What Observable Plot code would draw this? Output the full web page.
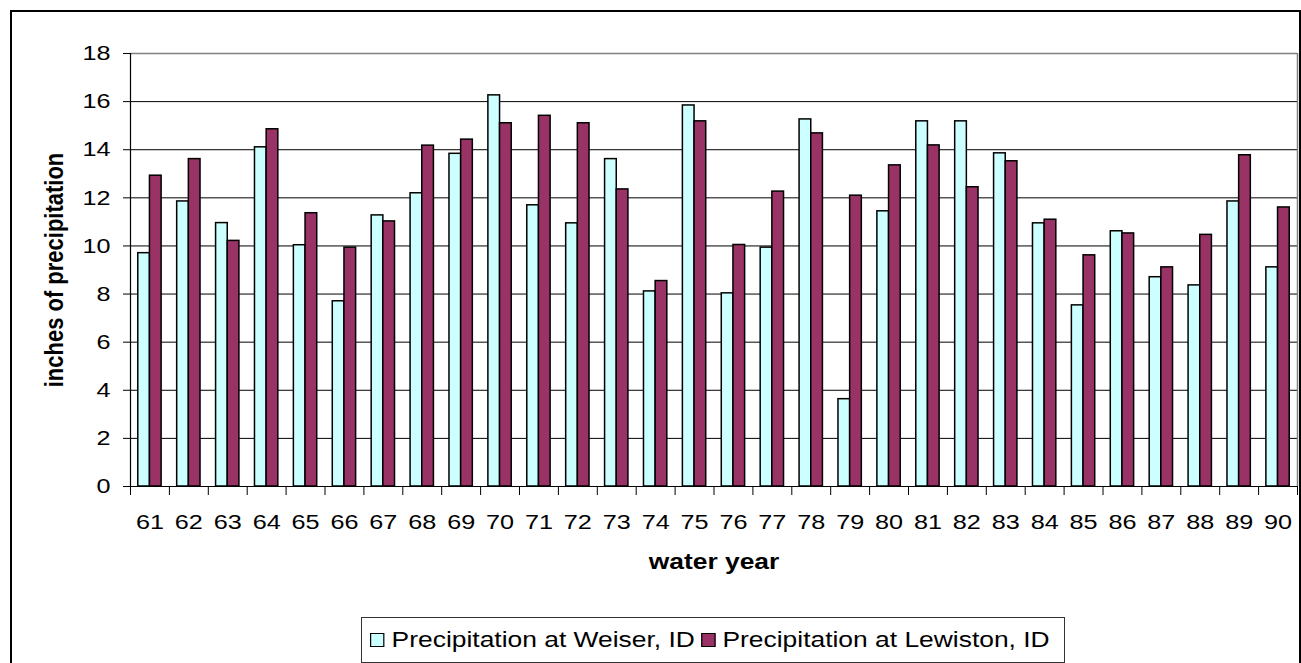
<!DOCTYPE html>
<html>
<head>
<meta charset="utf-8">
<script src="https://cdn.jsdelivr.net/npm/d3@7"></script>
<script src="https://cdn.jsdelivr.net/npm/@observablehq/plot@0.6"></script>
<style>
  body { margin: 0; background: #fff; font-family: "Liberation Sans", Arial, sans-serif; }
  #wrap { position: relative; width: 1301px; height: 663px; overflow: hidden; background: #fff; }
  #chart { position: absolute; left: 0; top: 0; }
  #frame { position: absolute; left: 10px; top: 10px; width: 1291px; height: 700px; border: 2px solid #000; box-sizing: border-box; pointer-events: none; }
  #legend { position: absolute; left: 361px; top: 617px; width: 704px; height: 46px; border: 1px solid #333; box-sizing: border-box; background: #fff; }
  #legend .inner { position: absolute; left: 8px; top: 0; height: 100%; display: flex; align-items: center; transform: scaleX(1.2); transform-origin: left center; white-space: nowrap; font-size: 22px; color: #000; }
  #legend .sw { display: inline-block; width: 10px; height: 12px; border: 1.5px solid #000; margin-right: 6px; }
  #legend .item { display: flex; align-items: center; margin-right: 5px; }
</style>
</head>
<body>
<div id="wrap">
  <div id="chart"></div>
  <div id="frame"></div>
  <div id="legend"><div class="inner"></div></div>
</div>
<script>
// ---- data ----
const years = [61,62,63,64,65,66,67,68,69,70,71,72,73,74,75,76,77,78,79,80,81,82,83,84,85,86,87,88,89,90];
const weiser = [9.7,11.85,10.95,14.1,10.03,7.7,11.27,12.19,13.83,16.26,11.69,10.94,13.61,8.11,15.84,8.03,9.93,15.26,3.63,11.44,15.18,15.18,13.85,10.94,7.53,10.61,8.70,8.36,11.85,9.11];
const lewiston = [12.92,13.61,10.21,14.85,11.36,9.93,11.02,14.17,14.42,15.10,15.41,15.10,12.35,8.54,15.18,10.04,12.26,14.68,12.09,13.35,14.18,12.44,13.52,11.09,9.61,10.52,9.11,10.46,13.77,11.60];
const seriesNames = ["Precipitation at Weiser, ID", "Precipitation at Lewiston, ID"];
const seriesColors = ["#CCFFFF", "#993366"];
const yTicks = [0,2,4,6,8,10,12,14,16,18];
const xLabel = "water year";
const yLabel = "inches of precipitation";

const data = years.flatMap((yr, i) => [
  {year: yr, series: seriesNames[0], value: weiser[i], side: 0},
  {year: yr, series: seriesNames[1], value: lewiston[i], side: 1}
]);
const xMin = years[0] - 0.5, xMax = years[years.length - 1] + 0.5;
const bounds = years.map(y => y - 0.5).concat([xMax]);
const yMax = yTicks[yTicks.length - 1];
const barW = 0.3;

const chart = Plot.plot({
  width: 1301,
  height: 600,
  marginLeft: 130,
  marginRight: 4,
  marginTop: 53,
  marginBottom: 114,
  style: {fontFamily: "'Liberation Sans', Arial, sans-serif", fontSize: "21px", color: "#000", background: "transparent"},
  x: {domain: [xMin, xMax]},
  y: {domain: [0, yMax]},
  color: {domain: seriesNames, range: seriesColors},
  marks: [
    Plot.ruleY(yTicks.filter(v => v > 0 && v < yMax), {stroke: "#000", strokeWidth: 1}),
    Plot.ruleY([yMax], {stroke: "#808080", strokeWidth: 1.5}),
    Plot.ruleX([xMax], {stroke: "#808080", strokeWidth: 1.5}),
    Plot.rectY(data, {
      x1: d => d.side === 0 ? d.year - barW : d.year,
      x2: d => d.side === 0 ? d.year : d.year + barW,
      y1: 0,
      y2: "value",
      fill: "series",
      stroke: "#000",
      strokeWidth: 1.5
    }),
    Plot.ruleX([xMin], {stroke: "#000", strokeWidth: 1.2}),
    Plot.ruleY([0], {stroke: "#000", strokeWidth: 1.2}),
    Plot.axisY({ticks: yTicks, tickSize: 7, tickPadding: 13, fontSize: 21, label: null, tickFormat: d => String(d)}),
    Plot.axisX({ticks: years, tickSize: 0, tickPadding: 28, fontSize: 21, label: null, tickFormat: d => String(d)}),
    Plot.axisX({ticks: bounds, tickSize: 9, tickFormat: () => "", label: null}),
    Plot.text([xLabel], {text: d => d, frameAnchor: "bottom", dy: 82, fontSize: 22, fontWeight: "bold", fill: "#000", textAnchor: "middle"}),
    Plot.text([yLabel], {text: d => d, frameAnchor: "left", dx: -76, rotate: -90, fontSize: 22, fontWeight: "bold", fill: "#000", textAnchor: "middle"})
  ]
});

// horizontal text stretch to match the reference's wide glyphs
chart.querySelectorAll("text").forEach(t => {
  const tr = t.getAttribute("transform");
  if (tr && /^translate\([^)]*\)/.test(tr)) {
    t.setAttribute("transform", tr.replace(/^(translate\([^)]*\))/, "$1 scale(1.2,1)"));
  } else if (t.hasAttribute("x") || t.hasAttribute("y")) {
    const x = t.getAttribute("x") || 0, y = t.getAttribute("y") || 0;
    t.removeAttribute("x"); t.removeAttribute("y");
    t.setAttribute("transform", `translate(${x},${y}) scale(1.2,1)` + (tr ? " " + tr : ""));
  }
});
document.getElementById("chart").appendChild(chart);

// legend
const inner = document.querySelector("#legend .inner");
seriesNames.forEach((name, i) => {
  const item = document.createElement("span");
  item.className = "item";
  const sw = document.createElement("span");
  sw.className = "sw";
  sw.style.background = seriesColors[i];
  const label = document.createElement("span");
  label.textContent = name;
  item.appendChild(sw);
  item.appendChild(label);
  inner.appendChild(item);
});
</script>
</body>
</html>
